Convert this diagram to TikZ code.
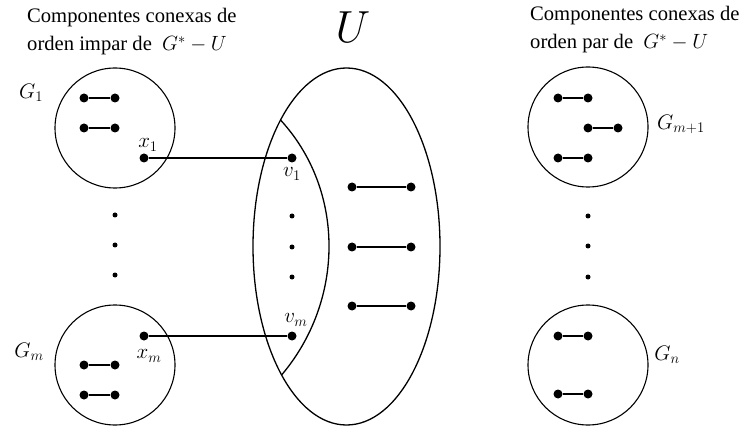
\documentclass[tikz,border=0pt]{standalone}
\usepackage{fix-cm}
\usepackage{fontspec}
\setmainfont{Liberation Serif}
\usetikzlibrary{shapes.geometric}
\begin{document}
\begin{tikzpicture}[x=1pt,y=-1pt,
  comp/.style={draw, line width=1.1pt, circle, minimum size=120pt, inner sep=0pt},
  bigset/.style={draw, line width=1.3pt, ellipse, minimum width=187pt, minimum height=357pt, inner sep=0pt},
  vtx/.style={circle, fill, inner sep=0pt, minimum size=9pt},
  sdot/.style={circle, fill, inner sep=0pt, minimum size=5pt},
  edg/.style={line width=1.4pt},
  lbl/.style={font=\fontsize{21}{24}\selectfont, inner sep=0pt},
  title/.style={font=\fontsize{20.6}{28}\selectfont, align=left, anchor=base west, inner sep=0pt}]
\useasboundingbox (0,0) rectangle (749,430);

% titles
\node[title] (tl) at (27,51) {Componentes conexas de\\orden impar de \ $G^{*}-U$};
\node[title] (tr) at (530,49) {Componentes conexas de\\orden par de \ $G^{*}-U$};
\node[font=\fontsize{45}{50}\selectfont, inner sep=0pt] (Ulbl) at (353,27) {$U$};

% component circles
\node[comp] (G1) at (115,128) {};
\node[comp] (Gm) at (115,365) {};
\node[comp] (Gm1) at (588,127) {};
\node[comp] (Gn) at (588,365) {};
\node[bigset] (U) at (346.5,246.5) {};

% inner arc of U
\coordinate (At) at (280.5,120);
\coordinate (Ab) at (281.6,375);
\draw[line width=1.3pt] (At) .. controls (345,190) and (345,300) .. (Ab);

% G1
\node[vtx] (g1a) at (84,98) {}; \node[vtx] (g1b) at (115,98) {};
\node[vtx] (g1c) at (84,128) {}; \node[vtx] (g1d) at (115,128) {};
\draw[edg] (g1a) -- (g1b); \draw[edg] (g1c) -- (g1d);
\node[vtx] (x1) at (144,158) {};
% Gm
\node[vtx] (gma) at (84,365) {}; \node[vtx] (gmb) at (115,365) {};
\node[vtx] (gmc) at (84,395) {}; \node[vtx] (gmd) at (115,395) {};
\draw[edg] (gma) -- (gmb); \draw[edg] (gmc) -- (gmd);
\node[vtx] (xm) at (144,336) {};
% U vertices
\node[vtx] (v1) at (292,158) {};
\node[vtx] (vm) at (292,336) {};
\draw[edg] (x1) -- (v1);
\draw[edg] (xm) -- (vm);
\node[vtx] (ua) at (352,187) {}; \node[vtx] (ub) at (411,187) {};
\node[vtx] (uc) at (352,247) {}; \node[vtx] (ud) at (411,247) {};
\node[vtx] (ue) at (352,306) {}; \node[vtx] (uf) at (411,306) {};
\draw[edg] (ua) -- (ub); \draw[edg] (uc) -- (ud); \draw[edg] (ue) -- (uf);
% Gm+1
\node[vtx] (ha) at (558,98) {}; \node[vtx] (hb) at (588,98) {};
\node[vtx] (hc) at (588,128) {}; \node[vtx] (hd) at (618,128) {};
\node[vtx] (he) at (558,158) {}; \node[vtx] (hf) at (588,158) {};
\draw[edg] (ha) -- (hb); \draw[edg] (hc) -- (hd); \draw[edg] (he) -- (hf);
% Gn
\node[vtx] (na) at (558,336) {}; \node[vtx] (nb) at (588,336) {};
\node[vtx] (nc) at (558,394) {}; \node[vtx] (nd) at (588,394) {};
\draw[edg] (na) -- (nb); \draw[edg] (nc) -- (nd);

% ellipsis dots
\node[sdot] (d1) at (115,215) {}; \node[sdot] (d2) at (115,245) {}; \node[sdot] (d3) at (115,275) {};
\node[sdot] (e1) at (292,216) {}; \node[sdot] (e2) at (292,247) {}; \node[sdot] (e3) at (292,277) {};
\node[sdot] (f1) at (588,216) {}; \node[sdot] (f2) at (588,246) {}; \node[sdot] (f3) at (588,277) {};

% labels
\node[lbl] (Lx1) at (148,145) {$x_1$};
\node[lbl] (Lv1) at (292,174) {$v_1$};
\node[lbl] (Lxm) at (149,356) {$x_m$};
\node[lbl] (Lvm) at (296,320) {$v_m$};
\node[lbl] (LG1) at (31,93) {$G_1$};
\node[lbl] (LGm) at (29,352) {$G_m$};
\node[lbl] (LGm1) at (681,124) {$G_{m+1}$};
\node[lbl] (LGn) at (667,355) {$G_n$};
\end{tikzpicture}
\end{document}
